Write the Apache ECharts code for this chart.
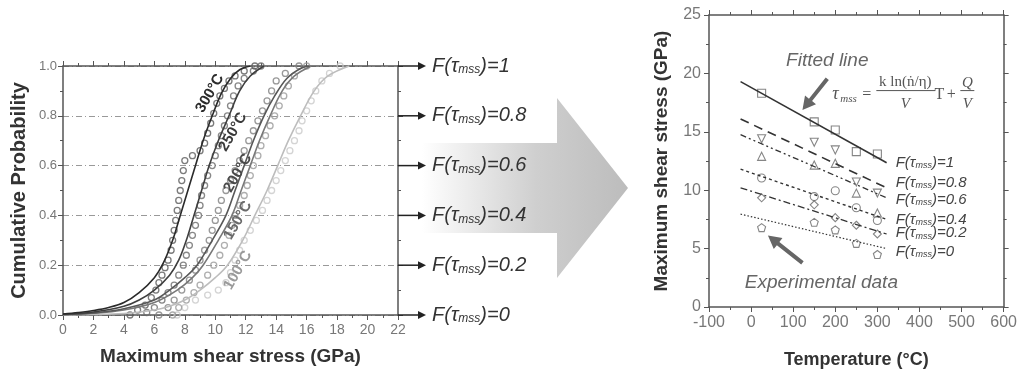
<!DOCTYPE html>
<html>
<head>
<meta charset="utf-8">
<script src="https://cdn.jsdelivr.net/npm/echarts@6/dist/echarts.min.js"></script>
<style>
  html, body { margin: 0; padding: 0; background: #fff; }
  #chart { width: 1020px; height: 374px; }
</style>
</head>
<body>
<div id="chart"></div>
<script>
// ---- left panel: cumulative probability vs max shear stress ----
const tempLabels = ['300°C', '250°C', '200°C', '150°C', '100°C'];
const fitColors = ['#2b2b2b', '#3f3f3f', '#585858', '#787878', '#bdbdbd'];
const dotColors = ['#5a5a5a', '#6a6a6a', '#808080', '#9a9a9a', '#c9c9c9'];
const tagColors = ['#2b2b2b', '#3a3a3a', '#4a4a4a', '#6a6a6a', '#9a9a9a'];
const probLevels = [1, 0.8, 0.6, 0.4, 0.2, 0];
const probLabels = ['1', '0.8', '0.6', '0.4', '0.2', '0'];

// fitted CDF curves [stress, probability]
const fit300 = [[0,0.004],[1,0.01],[2,0.018],[3,0.03],[4,0.05],[5,0.09],[6,0.15],[6.6,0.21],[7.2,0.3],[7.7,0.4],[8.2,0.5],[8.7,0.6],[9.2,0.7],[9.8,0.8],[10.4,0.89],[11,0.95],[11.6,0.985],[12.3,1]];
const fit250 = [[0,0.003],[2,0.012],[4,0.035],[5,0.06],[6,0.1],[7,0.16],[7.6,0.22],[8.1,0.3],[8.6,0.4],[9.1,0.5],[9.6,0.6],[10.2,0.7],[10.9,0.8],[11.6,0.9],[12.3,0.96],[13.2,1]];
const fit200 = [[0,0.002],[2,0.008],[4,0.025],[6,0.06],[7,0.1],[8,0.15],[8.8,0.2],[9.8,0.3],[10.7,0.4],[11.3,0.5],[11.9,0.6],[12.5,0.7],[13.2,0.8],[13.9,0.88],[14.7,0.95],[15.6,0.99],[16.2,1]];
const fit150 = [[0,0.002],[2,0.007],[4,0.02],[6,0.05],[7.5,0.1],[8.5,0.15],[9.2,0.2],[10.2,0.3],[11.1,0.4],[11.7,0.5],[12.3,0.6],[12.9,0.7],[13.6,0.8],[14.4,0.9],[15.2,0.96],[16.3,1]];
const fit100 = [[0,0],[4,0.006],[6,0.02],[7,0.035],[8,0.06],[9,0.1],[10,0.15],[10.8,0.2],[11.8,0.3],[12.6,0.4],[13.4,0.5],[14.1,0.6],[14.8,0.7],[15.6,0.8],[16.5,0.9],[17.4,0.96],[18.8,1]];

// measured points [stress, probability]
const pts300 = [[4.4,0],[4.9,0.02],[5.4,0.04],[5.8,0.07],[6.1,0.1],[6.3,0.13],[6.5,0.16],[6.7,0.19],[6.9,0.22],[7.1,0.26],[7.2,0.3],[7.3,0.34],[7.4,0.38],[7.5,0.42],[7.6,0.46],[7.7,0.5],[7.8,0.54],[7.9,0.58],[8,0.62],[8.5,0.64],[9,0.66],[9.3,0.69],[9.5,0.73],[9.7,0.77],[9.9,0.81],[10.1,0.85],[10.3,0.88],[10.6,0.91],[10.9,0.94],[11.3,0.96],[11.9,0.98],[12.6,1]];
const pts250 = [[5.5,0.01],[6,0.03],[6.5,0.06],[6.9,0.09],[7.3,0.12],[7.6,0.16],[7.9,0.2],[8.1,0.24],[8.3,0.28],[8.5,0.32],[8.7,0.36],[8.9,0.4],[9,0.44],[9.1,0.48],[9.3,0.52],[9.5,0.56],[9.8,0.6],[10,0.64],[10.2,0.68],[10.4,0.72],[10.6,0.76],[10.8,0.8],[11,0.84],[11.2,0.88],[11.5,0.92],[11.9,0.95],[12.5,0.98],[13,1]];
const pts200 = [[6.3,0],[6.9,0.03],[7.3,0.06],[7.8,0.1],[8.3,0.14],[8.7,0.18],[9,0.22],[9.3,0.26],[9.6,0.3],[9.8,0.34],[10,0.38],[10.2,0.42],[10.4,0.46],[10.7,0.5],[11,0.54],[11.3,0.58],[11.6,0.62],[11.9,0.66],[12.2,0.7],[12.5,0.74],[12.8,0.78],[13.1,0.82],[13.4,0.86],[13.7,0.9],[14,0.94],[14.6,0.97],[15.5,1]];
const pts150 = [[7.2,0],[7.6,0.03],[8.1,0.06],[8.6,0.09],[9,0.12],[9.5,0.16],[9.9,0.2],[10.3,0.24],[10.6,0.28],[10.9,0.32],[11.1,0.36],[11.3,0.4],[11.6,0.44],[11.9,0.48],[12.1,0.52],[12.3,0.56],[12.5,0.6],[12.8,0.64],[13,0.68],[13.3,0.72],[13.6,0.76],[13.9,0.8],[14.2,0.84],[14.5,0.88],[14.8,0.92],[15.2,0.96],[16,1]];
const pts100 = [[7.5,0],[8,0.03],[8.7,0.06],[9.5,0.08],[10.2,0.1],[10.7,0.13],[11,0.17],[11.3,0.22],[11.6,0.26],[11.9,0.3],[12.3,0.34],[12.7,0.38],[13.1,0.42],[13.4,0.46],[13.7,0.5],[14,0.54],[14.3,0.58],[14.6,0.62],[14.9,0.66],[15.2,0.7],[15.5,0.74],[15.7,0.78],[16,0.82],[16.3,0.86],[16.6,0.9],[17,0.94],[17.5,0.97],[18.2,1]];

// ---- right panel: max shear stress vs temperature ----
const tempPts = [25, 150, 200, 250, 300];
const stress1 = [18.3, 15.85, 15.15, 13.3, 13.1];
const stress08 = [14.4, 14.1, 13.45, 10.7, 9.75];
const stress06 = [12.9, 12.15, 12.3, 9.75, 8.05];
const stress04 = [11.05, 9.45, 9.95, 8.5, 7.4];
const stress02 = [9.35, 8.75, 7.65, 7.0, 6.25];
const stress0 = [6.8, 7.25, 6.6, 5.45, 4.5];

// fitted lines, two end points each
const fitT = [-25, 322];
const line1 = [19.3, 12.35];
const line08 = [16.1, 10.2];
const line06 = [14.75, 9.35];
const line04 = [11.8, 7.5];
const line02 = [10.2, 6.25];
const line0 = [7.95, 5.0];

const chart = echarts.init(document.getElementById('chart'));

const axisCol = '#555';
const labelCol = '#777';
const pentagon = 'path://M0,-10L9.5,-3.1L5.9,8.1L-5.9,8.1L-9.5,-3.1Z';

function frameAxis(grid, pos, min, max, interval) {
  return {
    type: 'value', gridIndex: grid, position: pos, min: min, max: max, interval: interval,
    axisLine: { show: true, onZero: false, lineStyle: { color: axisCol, width: 1.5 } },
    axisTick: { show: true, length: 5, lineStyle: { color: axisCol } },
    minorTick: { show: true, splitNumber: 2, length: 3, lineStyle: { color: axisCol } },
    axisLabel: { show: false },
    splitLine: { show: false }
  };
}

function fitSeries(data, i) {
  return {
    type: 'line', xAxisIndex: 0, yAxisIndex: 0, data: data, smooth: 0.35,
    showSymbol: false, lineStyle: { color: fitColors[i], width: 1.6 }, z: 3
  };
}
function dotSeries(data, i) {
  return {
    type: 'scatter', xAxisIndex: 0, yAxisIndex: 0, data: data, symbol: 'circle', symbolSize: 6,
    itemStyle: { color: 'rgba(0,0,0,0)', borderColor: dotColors[i], borderWidth: 1.3 }, z: 2
  };
}
function pointSeries(vals, symbol, rotate) {
  return {
    type: 'scatter', xAxisIndex: 2, yAxisIndex: 2, symbol: symbol, symbolSize: 8, symbolRotate: rotate || 0,
    data: tempPts.map((t, i) => [t, vals[i]]),
    itemStyle: { color: 'rgba(0,0,0,0)', borderColor: '#666', borderWidth: 1.1 }, z: 2
  };
}
function fitLine(vals, dash, width, lab, dy) {
  return {
    type: 'line', xAxisIndex: 2, yAxisIndex: 2, showSymbol: false,
    data: fitT.map((t, i) => [t, vals[i]]),
    lineStyle: { color: '#333', width: width, type: dash },
    endLabel: {
      show: true, distance: 9, offset: [0, dy],
      formatter: '{a|F(τ}{s|mss}{a|)=' + lab + '}',
      rich: {
        a: { fontSize: 15, fontStyle: 'italic', color: '#444', fontFamily: 'Liberation Sans' },
        s: { fontSize: 9, fontStyle: 'italic', color: '#444', fontFamily: 'Liberation Sans', verticalAlign: 'bottom', padding: [6, 0, 0, 0] }
      }
    },
    z: 3
  };
}

const option = {
  animation: false,
  textStyle: { fontFamily: 'Liberation Sans, Arial, sans-serif' },
  grid: [
    { left: 63, top: 66, width: 335, height: 249 },
    { left: 709, top: 15, width: 298, height: 298 }
  ],
  xAxis: [
    Object.assign(frameAxis(0, 'bottom', 0, 22, 2), {
      axisLabel: { show: true, fontSize: 14, color: labelCol, margin: 8 },
      name: 'Maximum shear stress (GPa)', nameLocation: 'middle', nameGap: 32,
      nameTextStyle: { fontSize: 19, fontWeight: 'bold', color: '#333' }
    }),
    frameAxis(0, 'top', 0, 22, 2),
    Object.assign(frameAxis(1, 'bottom', -100, 600, 100), {
      axisLabel: { show: true, fontSize: 16, color: labelCol, margin: 8 },
      name: 'Temperature (°C)', nameLocation: 'middle', nameGap: 44,
      nameTextStyle: { fontSize: 18, fontWeight: 'bold', color: '#333' }
    }),
    frameAxis(1, 'top', -100, 600, 100)
  ],
  yAxis: [
    Object.assign(frameAxis(0, 'left', 0, 1, 0.2), {
      axisLabel: { show: true, fontSize: 13, color: labelCol, margin: 6, formatter: v => v.toFixed(1) },
      splitLine: { show: true, lineStyle: { color: '#999', type: [6, 3, 1, 3], width: 1 } },
      name: 'Cumulative Probability', nameLocation: 'middle', nameGap: 34,
      nameTextStyle: { fontSize: 20, fontWeight: 'bold', color: '#333' }
    }),
    frameAxis(0, 'right', 0, 1, 0.2),
    Object.assign(frameAxis(1, 'left', 0, 25, 5), {
      axisLabel: { show: true, fontSize: 16, color: labelCol, margin: 8 },
      name: 'Maximum shear stress (GPa)', nameLocation: 'middle', nameGap: 38,
      nameTextStyle: { fontSize: 19, fontWeight: 'bold', color: '#333' }
    }),
    frameAxis(1, 'right', 0, 25, 5)
  ],
  series: [
    dotSeries(pts100, 4), dotSeries(pts150, 3), dotSeries(pts200, 2), dotSeries(pts250, 1), dotSeries(pts300, 0),
    fitSeries(fit100, 4), fitSeries(fit150, 3), fitSeries(fit200, 2), fitSeries(fit250, 1), fitSeries(fit300, 0),
    pointSeries(stress1, 'rect'),
    pointSeries(stress08, 'triangle', 180),
    pointSeries(stress06, 'triangle'),
    pointSeries(stress04, 'circle'),
    pointSeries(stress02, 'diamond'),
    pointSeries(stress0, pentagon),
    fitLine(line1, 'solid', 1.6, '1', 0),
    fitLine(line08, [9, 6], 1.6, '0.8', -5),
    fitLine(line06, [6, 3, 2, 3, 2, 3], 1.3, '0.6', 2),
    fitLine(line04, [3, 3], 1.4, '0.4', 0),
    fitLine(line02, [7, 3, 2, 3], 1.3, '0.2', -1),
    fitLine(line0, [1.5, 2], 1.2, '0', 3)
  ]
};
chart.setOption(option);

// ---- annotations placed through the axes ----
const px = (gi, v) => chart.convertToPixel({ gridIndex: gi }, v);
const g = [];

function arrow(x1, y1, x2, y2, shaft, headLen, headW, color) {
  const dx = x2 - x1, dy = y2 - y1, L = Math.hypot(dx, dy);
  const ux = dx / L, uy = dy / L, nx = -uy, ny = ux;
  const bx = x2 - ux * headLen, by = y2 - uy * headLen;
  return {
    type: 'polygon', z: 10,
    shape: { points: [
      [x1 + nx * shaft / 2, y1 + ny * shaft / 2], [bx + nx * shaft / 2, by + ny * shaft / 2],
      [bx + nx * headW / 2, by + ny * headW / 2], [x2, y2],
      [bx - nx * headW / 2, by - ny * headW / 2], [bx - nx * shaft / 2, by - ny * shaft / 2],
      [x1 - nx * shaft / 2, y1 - ny * shaft / 2]
    ] },
    style: { fill: color }
  };
}

// big gray arrow between panels
g.push({
  type: 'polygon', z: 0,
  shape: { points: [[422, 143], [557, 143], [557, 98], [628, 188], [557, 278], [557, 233], [422, 233]] },
  style: { fill: new echarts.graphic.LinearGradient(0, 0, 1, 0, [
    { offset: 0, color: '#ffffff' }, { offset: 0.55, color: '#cfcfcf' }, { offset: 1, color: '#bcbcbc' }
  ]) }
});

// probability level arrows and labels on the left panel
probLevels.forEach((p, i) => {
  const [x0, y] = px(0, [22, p]);
  g.push({ type: 'line', z: 10, shape: { x1: x0, y1: y, x2: x0 + 22, y2: y }, style: { stroke: '#222', lineWidth: 1.5 } });
  g.push({ type: 'polygon', z: 10, shape: { points: [[x0 + 20, y - 4], [x0 + 28, y], [x0 + 20, y + 4]] }, style: { fill: '#222' } });
  g.push({
    type: 'text', z: 10, x: x0 + 34, y: y,
    style: {
      text: '{a|F(τ}{s|mss}{a|)=' + probLabels[i] + '}', verticalAlign: 'middle',
      rich: {
        a: { fontSize: 20, fontStyle: 'italic', fill: '#333', fontFamily: 'Liberation Sans' },
        s: { fontSize: 12, fontStyle: 'italic', fill: '#333', fontFamily: 'Liberation Sans', verticalAlign: 'bottom', padding: [8, 0, 0, 0] }
      }
    }
  });
});

// rotated temperature tags
const tagPos = [[9.65, 0.89], [11.16, 0.735], [11.49, 0.57], [11.49, 0.38], [11.49, 0.18]];
tagPos.forEach((pos, i) => {
  const [x, y] = px(0, pos);
  g.push({
    type: 'text', z: 10, x: x, y: y, rotation: 60 * Math.PI / 180,
    style: { text: tempLabels[i], align: 'center', verticalAlign: 'middle', fontSize: 15, fontWeight: 'bold', fill: tagColors[i], fontFamily: 'Liberation Sans Narrow, Liberation Sans' }
  });
});

// right panel notes
const ft = px(1, [181, 21.1]);
g.push({ type: 'text', z: 10, x: ft[0], y: ft[1], style: { text: 'Fitted line', align: 'center', verticalAlign: 'middle', fontSize: 19, fontStyle: 'italic', fill: '#666' } });
const fa = px(1, [181, 19.55]), fb = px(1, [122, 16.86]);
g.push(arrow(fa[0], fa[1], fb[0], fb[1], 4, 13, 14, '#666'));

const ex = px(1, [167, 2.1]);
g.push({ type: 'text', z: 10, x: ex[0], y: ex[1], style: { text: 'Experimental data', align: 'center', verticalAlign: 'middle', fontSize: 19, fontStyle: 'italic', fill: '#666' } });
const ea = px(1, [122, 3.78]), eb = px(1, [40, 6.12]);
g.push(arrow(ea[0], ea[1], eb[0], eb[1], 4, 13, 14, '#666'));

// equation
const [qx, qy] = px(1, [193, 18.1]);
const serif = 'Liberation Serif, DejaVu Serif, serif';
const eqText = (dx, dy, t, size, italic, align) => ({
  type: 'text', z: 10, x: qx + dx, y: qy + dy,
  style: { text: t, fontSize: size, fontStyle: italic ? 'italic' : 'normal', fill: '#555', fontFamily: serif, align: align || 'left', verticalAlign: 'middle' }
});
g.push(eqText(0, -1, 'τ', 18, true));
g.push(eqText(8, 4, 'mss', 11, true));
g.push(eqText(30, -1, '=', 16, false));
g.push(eqText(73, -14, 'k ln(ṅ/η)', 15, false, 'center'));
g.push({ type: 'line', z: 10, shape: { x1: qx + 44, y1: qy - 5, x2: qx + 103, y2: qy - 5 }, style: { stroke: '#555', lineWidth: 1 } });
g.push(eqText(73, 8, 'V', 15, true, 'center'));
g.push(eqText(107, -1, 'T', 16, false, 'center'));
g.push(eqText(119, -1, '+', 16, false, 'center'));
g.push(eqText(135, -13, 'Q', 15, true, 'center'));
g.push({ type: 'line', z: 10, shape: { x1: qx + 128, y1: qy - 5, x2: qx + 142, y2: qy - 5 }, style: { stroke: '#555', lineWidth: 1 } });
g.push(eqText(135, 8, 'V', 15, true, 'center'));

chart.setOption({ graphic: g });
</script>
</body>
</html>
